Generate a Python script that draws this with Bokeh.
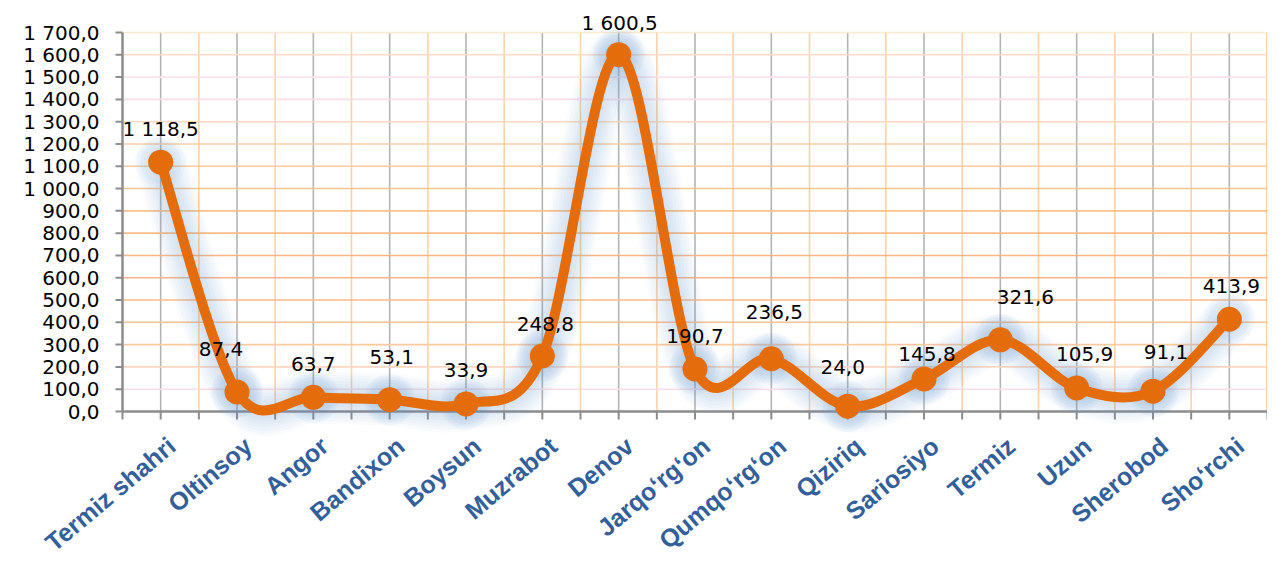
import numpy as np
from bokeh.plotting import figure
from bokeh.models import Range1d, ColumnDataSource
from bokeh.core.properties import value
from bokeh.embed import file_html
from bokeh.resources import INLINE

# ---- data ----
categories = ["Termiz shahri", "Oltinsoy", "Angor", "Bandixon", "Boysun", "Muzrabot",
              "Denov", "Jarqo‘rg‘on", "Qumqo‘rg‘on", "Qiziriq", "Sariosiyo", "Termiz",
              "Uzun", "Sherobod", "Sho‘rchi"]
values = [1118.5, 87.4, 63.7, 53.1, 33.9, 248.8, 1600.5, 190.7, 236.5, 24.0, 145.8,
          321.6, 105.9, 91.1, 413.9]
value_labels = ["1 118,5", "87,4", "63,7", "53,1", "33,9", "248,8", "1 600,5", "190,7",
                "236,5", "24,0", "145,8", "321,6", "105,9", "91,1", "413,9"]
yticks = list(range(0, 1800, 100))
ytick_labels = ["0,0", "100,0", "200,0", "300,0", "400,0", "500,0", "600,0", "700,0",
                "800,0", "900,0", "1 000,0", "1 100,0", "1 200,0", "1 300,0", "1 400,0",
                "1 500,0", "1 600,0", "1 700,0"]

# ---- styling / layout ----
label_dx = [0, -16, 0, 2, 0, 3, 1, 0, 3, -5, 3, 25, 8, 13, 2]
label_dy = [-33, -43, -33, -43, -34, -32, -32, -33, -47, -39, -25, -43, -34, -39, -33]
hgrid_colors = ["#8c8c8c", "#fbdde6", "#fcd6c0", "#fccaa0", "#fbc08e", "#fbb888", "#fbb386",
                "#fbb585", "#fbbb86", "#fbc089", "#fcc590", "#fccb9c", "#fccfa3", "#fcd9c0",
                "#fcdde6", "#fde2ea", "#fcdcc8", "#fde9cc"]
ORANGE = "#e46c0a"
GLOW = "#6fa0dc"
AXIS = "#8c8c8c"

n = len(values)
xs = np.arange(n, dtype=float)
ys = np.array(values, dtype=float)

W, H = 1267, 559
LEFT = 122                        # px from canvas left to the value axis
PX_PER_UNIT = 379.0 / 1700.0      # vertical scale
BAND = (W - LEFT) / n             # px per category
y_top = 1700 + 32 / PX_PER_UNIT
y_bot = y_top - H / PX_PER_UNIT
x_left = -0.5 - LEFT / BAND

p = figure(width=W, height=H, output_backend="svg", toolbar_location=None,
           x_range=Range1d(x_left, n - 0.5), y_range=Range1d(y_bot, y_top),
           min_border_left=0, min_border_right=0, min_border_top=0, min_border_bottom=0)
p.outline_line_color = None
p.xgrid.visible = False
p.ygrid.visible = False
p.xaxis.visible = False
p.yaxis.visible = False
p.background_fill_color = "white"
p.border_fill_color = "white"

# grid: vertical lines
p.segment(x0=xs, y0=0, x1=xs, y1=1700, line_color="#b4b4b4", line_width=1.6)
bx = np.arange(n) + 0.5
p.segment(x0=bx[:-1], y0=0, x1=bx[:-1], y1=1700, line_color="#fcd2a8", line_width=1.6)
bx_last = np.array([n - 0.5])
p.segment(x0=bx_last, y0=0, x1=bx_last, y1=1700, line_color="#fcd2a8", line_width=3)
# horizontal lines
p.segment(x0=-0.5, y0=yticks[1:], x1=n - 0.5, y1=yticks[1:], line_color=hgrid_colors[1:],
          line_width=1.6)

# value axis: line, ticks, labels
ytick_len = 7 / BAND
p.segment(x0=[-0.5], y0=[0], x1=[-0.5], y1=[1700], line_color=AXIS, line_width=2.5)
p.segment(x0=-0.5 - ytick_len, y0=yticks, x1=-0.5, y1=yticks, line_color=AXIS, line_width=2)
p.text(x=np.full(len(yticks), -0.5), y=yticks, text=ytick_labels, x_offset=-23,
       text_align="right", text_baseline="middle", text_font=value("DejaVu Sans"),
       text_font_size="20px", text_color="black")

# category axis: line, ticks, labels
xtick_len = 8 / PX_PER_UNIT
all_ticks = np.arange(2 * n + 1) / 2.0 - 0.5
p.segment(x0=[-0.5], y0=[0], x1=[n - 0.5], y1=[0], line_color=AXIS, line_width=2.5)
p.segment(x0=all_ticks, y0=0, x1=all_ticks, y1=-xtick_len, line_color=AXIS, line_width=2)
p.text(x=xs, y=np.zeros(n), text=categories, x_offset=2, y_offset=20, angle=0.70,
       text_align="right", text_baseline="top", text_font=value("Liberation Sans"),
       text_font_style="bold", text_font_size="25px", text_color="#32609a")

# smooth curve control points (Catmull-Rom -> Bezier, as in spreadsheet smoothing)
P = np.column_stack([xs, ys])
Pm = np.vstack([P[0], P, P[-1]])
x0 = []; y0 = []; x1 = []; y1 = []; cx0 = []; cy0 = []; cx1 = []; cy1 = []
for i in range(n - 1):
    p0, p1, p2, p3 = Pm[i], Pm[i + 1], Pm[i + 2], Pm[i + 3]
    c1 = p1 + (p2 - p0) / 6.0
    c2 = p2 - (p3 - p1) / 6.0
    x0.append(p1[0]); y0.append(p1[1]); x1.append(p2[0]); y1.append(p2[1])
    cx0.append(c1[0]); cy0.append(c1[1]); cx1.append(c2[0]); cy1.append(c2[1])
bsrc = ColumnDataSource(dict(x0=x0, y0=y0, x1=x1, y1=y1, cx0=cx0, cy0=cy0, cx1=cx1, cy1=cy1))

# soft glow
for w in [52, 46, 40, 34, 28, 22, 16]:
    p.bezier(x0="x0", y0="y0", x1="x1", y1="y1", cx0="cx0", cy0="cy0", cx1="cx1", cy1="cy1",
             source=bsrc, line_color=GLOW, line_alpha=0.045, line_width=w, line_cap="round")
for s in [50, 42]:
    p.scatter(xs, ys, size=s, fill_color=GLOW, fill_alpha=0.04, line_color=None)

p.bezier(x0="x0", y0="y0", x1="x1", y1="y1", cx0="cx0", cy0="cy0", cx1="cx1", cy1="cy1",
         source=bsrc, line_color=ORANGE, line_width=10, line_cap="round")
p.scatter(xs, ys, size=25, fill_color=ORANGE, line_color=None)

# data labels
lsrc = ColumnDataSource(dict(x=xs, y=ys, t=value_labels, dx=label_dx, dy=label_dy))
p.text(x="x", y="y", text="t", x_offset="dx", y_offset="dy", source=lsrc,
       text_font=value("DejaVu Sans"), text_font_size="20px", text_color="black",
       text_align="center", text_baseline="middle")

open("out.html", "w").write(file_html(p, INLINE))
